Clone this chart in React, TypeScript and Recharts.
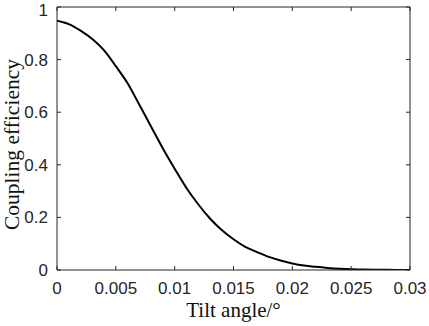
import { LineChart, Line, XAxis, YAxis, Label } from 'recharts';

const tiltAngles = [
  0, 0.001, 0.002, 0.003, 0.004, 0.005, 0.006, 0.007, 0.008, 0.009, 0.01,
  0.011, 0.012, 0.013, 0.014, 0.015, 0.016, 0.017, 0.018, 0.019, 0.02,
  0.021, 0.022, 0.023, 0.024, 0.025, 0.026, 0.027, 0.028, 0.029, 0.03,
];
const efficiency = [
  0.948, 0.935, 0.91, 0.878, 0.835, 0.775, 0.71, 0.628, 0.545, 0.462, 0.385,
  0.312, 0.25, 0.196, 0.152, 0.117, 0.088, 0.068, 0.05, 0.036, 0.025,
  0.017, 0.012, 0.008, 0.005, 0.003, 0.002, 0.001, 0.0006, 0.0003, 0.0002,
];
const xTicks = [0, 0.005, 0.01, 0.015, 0.02, 0.025, 0.03];
const yTicks = [0, 0.2, 0.4, 0.6, 0.8, 1];

const chartData = tiltAngles.map((x, i) => ({ x, y: efficiency[i] }));

const AXIS = '#262626';
const tickFont = { fontSize: 17, fill: AXIS, fontFamily: 'Liberation Sans, Arial, sans-serif' };
const labelFont = 'Liberation Serif, Times New Roman, serif';

const fmt = (v: number) => String(v);
const noTick = () => <g />;

export default function App() {
  return (
    <div style={{ width: 429, height: 326, background: '#fff' }}>
      <style>{'body{margin:0}'}</style>
      <LineChart width={429} height={326} data={chartData} margin={{ top: 6, right: 18, bottom: 0, left: 0 }}>
        <XAxis
          dataKey="x"
          type="number"
          domain={[0, 0.03]}
          ticks={xTicks}
          tickFormatter={fmt}
          height={56}
          stroke={AXIS}
          tickSize={-4}
          tickMargin={16}
          tick={tickFont}
          allowDataOverflow
        >
          <Label
            value="Tilt angle/°"
            position="insideBottom"
            offset={9}
            style={{ fontSize: 21, fill: '#111', fontFamily: labelFont }}
          />
        </XAxis>
        <XAxis
          xAxisId="top"
          dataKey="x"
          orientation="top"
          type="number"
          domain={[0, 0.03]}
          ticks={xTicks}
          height={1}
          stroke={AXIS}
          tickSize={-4}
          tick={noTick}
          allowDataOverflow
        />
        <YAxis
          type="number"
          domain={[0, 1]}
          ticks={yTicks}
          tickFormatter={fmt}
          width={57}
          stroke={AXIS}
          tickSize={-4}
          tickMargin={13}
          tick={tickFont}
          allowDataOverflow
        >
          <Label
            content={({ viewBox }: any) => {
              const cx = 19;
              const cy = viewBox.y + viewBox.height / 2 + 6;
              return (
                <text
                  x={cx}
                  y={cy}
                  transform={`rotate(-90 ${cx} ${cy})`}
                  textAnchor="middle"
                  style={{ fontSize: 21.5, fill: '#111', fontFamily: labelFont }}
                >
                  Coupling efficiency
                </text>
              );
            }}
          />
        </YAxis>
        <YAxis
          yAxisId="right"
          orientation="right"
          type="number"
          domain={[0, 1]}
          ticks={yTicks}
          width={1}
          stroke={AXIS}
          tickSize={-4}
          tick={noTick}
          allowDataOverflow
        />
        <Line
          xAxisId="top"
          yAxisId="right"
          dataKey="y"
          stroke="none"
          dot={false}
          activeDot={false}
          isAnimationActive={false}
        />
        <Line
          dataKey="y"
          type="monotone"
          stroke="#000"
          strokeWidth={2}
          dot={false}
          isAnimationActive={false}
        />
      </LineChart>
    </div>
  );
}
